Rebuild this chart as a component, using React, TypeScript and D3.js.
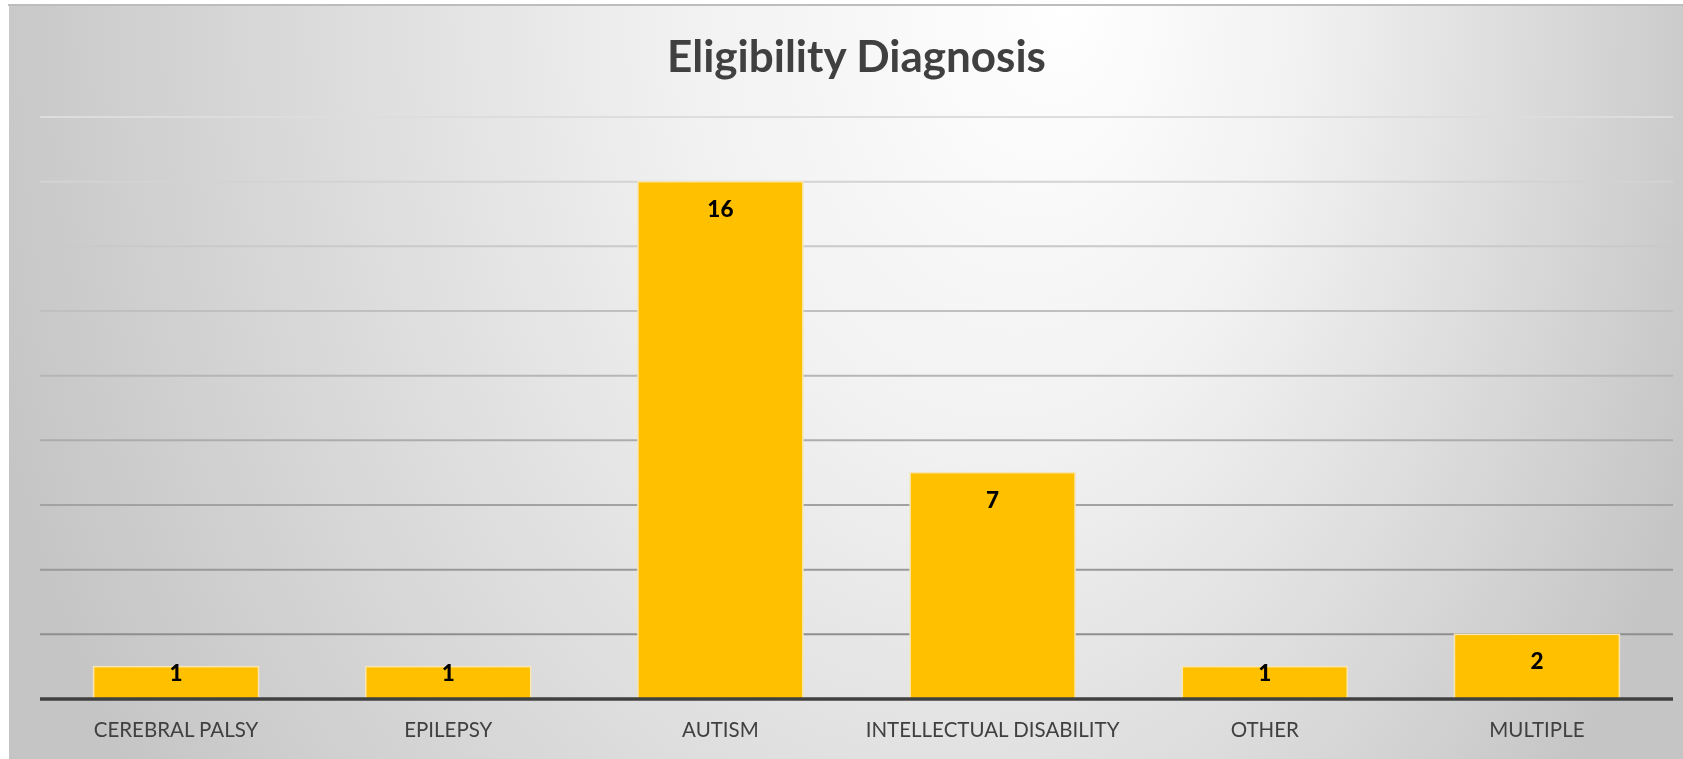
import React, {Component} from "react";
import * as d3 from "d3";

// chart data
const categories: string[] = ["CEREBRAL PALSY", "EPILEPSY", "AUTISM", "INTELLECTUAL DISABILITY", "OTHER", "MULTIPLE"];
const counts: number[] = [1, 1, 16, 7, 1, 2];
const gridTicks: number[] = [2, 4, 6, 8, 10, 12, 14, 16, 18];
const title = "Eligibility Diagnosis";

const W = 1683;
const H = 759;

class BarChart extends Component<{}, {}> {
    chartRef: React.RefObject<SVGSVGElement | null>;

    constructor(props: {}) {
        super(props);
        this.chartRef = React.createRef();
        this.createChart = this.createChart.bind(this);
    }

    componentDidMount() {
        this.createChart();
    }

    createChart() {
        const margin = {top: 117, bottom: 60, left: 40, right: 10};
        const barCol = "#FFC000";
        const textCol = "#404040";
        const font = "Lato, 'Open Sans', sans-serif";

        const svg = d3.select(this.chartRef.current);
        svg.selectAll("*").remove();

        const defs = svg.append("defs");

        // soft radial background, white near the top middle, grey at the edges
        const bg = defs.append("radialGradient")
            .attr("id", "bgGrad")
            .attr("gradientUnits", "userSpaceOnUse")
            .attr("cx", 0).attr("cy", 0).attr("r", 900)
            .attr("fx", 220).attr("fy", 0)
            .attr("gradientTransform", "translate(850,0) scale(1,1.45)");
        bg.append("stop").attr("offset", 0).attr("stop-color", "#ffffff");
        bg.append("stop").attr("offset", 0.35).attr("stop-color", "#f1f1f1");
        bg.append("stop").attr("offset", 1).attr("stop-color", "#c5c5c5");

        // gridlines fade from light at the top to darker at the bottom
        const gl = defs.append("linearGradient")
            .attr("id", "gridGrad")
            .attr("gradientUnits", "userSpaceOnUse")
            .attr("x1", 0).attr("y1", 110).attr("x2", 0).attr("y2", 640);
        gl.append("stop").attr("offset", 0).attr("stop-color", "#dedede");
        gl.append("stop").attr("offset", 1).attr("stop-color", "#8e8e8e");

        svg.append("rect")
            .attr("x", 9).attr("y", 5)
            .attr("width", W - 9).attr("height", H - 5)
            .attr("fill", "url(#bgGrad)");

        svg.append("line")
            .attr("x1", 8).attr("x2", W)
            .attr("y1", 5).attr("y2", 5)
            .attr("stroke", "#bdbdbd")
            .attr("stroke-width", 2);

        //scales
        const xscale = d3.scaleBand<string>()
            .domain(categories)
            .range([margin.left, W - margin.right])
            .paddingInner(0.394)
            .paddingOuter(0.197);

        const yscale = d3.scaleLinear()
            .domain([0, 18])
            .range([H - margin.bottom, margin.top]);

        // title
        svg.append("text")
            .attr("x", (margin.left + W - margin.right) / 2)
            .attr("y", 72)
            .attr("text-anchor", "middle")
            .style("font-family", font)
            .style("font-weight", "bold")
            .style("font-size", "44px")
            .attr("fill", textCol)
            .text(title);

        // gridlines
        svg.append("g")
            .selectAll("line")
            .data(gridTicks)
            .enter()
                .append("line")
                    .attr("x1", margin.left)
                    .attr("x2", W - margin.right)
                    .attr("y1", (d) => yscale(d))
                    .attr("y2", (d) => yscale(d))
                    .attr("stroke", "url(#gridGrad)")
                    .attr("stroke-width", 2);

        const data = categories.map((c, i) => ({cat: c, val: counts[i]}));

        // bars
        svg.append("g")
            .selectAll("rect")
            .data(data)
            .enter()
                .append("rect")
                    .attr("x", (d) => xscale(d.cat)!)
                    .attr("y", (d) => yscale(d.val))
                    .attr("width", xscale.bandwidth())
                    .attr("height", (d) => yscale(0) - yscale(d.val))
                    .attr("fill", barCol)
                    .attr("stroke", "#f8e6b4")
                    .attr("stroke-width", 1.5);

        // x axis base line
        svg.append("line")
            .attr("x1", margin.left)
            .attr("x2", W - margin.right)
            .attr("y1", yscale(0))
            .attr("y2", yscale(0))
            .attr("stroke", "#404040")
            .attr("stroke-width", 3.5);

        // category labels
        svg.append("g")
            .selectAll("text")
            .data(categories)
            .enter()
                .append("text")
                    .attr("x", (d) => xscale(d)! + xscale.bandwidth() / 2)
                    .attr("y", yscale(0) + 38)
                    .attr("text-anchor", "middle")
                    .style("font-family", font)
                    .style("font-size", "20.5px")
                    .attr("fill", textCol)
                    .text((d) => d);

        // value labels, inside the top of each bar
        svg.append("g")
            .selectAll("text")
            .data(data)
            .enter()
                .append("text")
                    .attr("x", (d) => xscale(d.cat)! + xscale.bandwidth() / 2)
                    .attr("y", (d) => Math.min(yscale(d.val) + 35, yscale(0) - 18))
                    .attr("text-anchor", "middle")
                    .style("font-family", font)
                    .style("font-weight", "900")
                    .style("font-size", "22.5px")
                    .attr("fill", "#000000")
                    .text((d) => d.val);
    }

    render() {
        return (
            <svg
                ref={this.chartRef}
                width={W}
                height={H}
                style={{position: "fixed", left: 0, top: 0, display: "block"}}
            />
        );
    }
}

export default function App() {
    return <BarChart />;
}
